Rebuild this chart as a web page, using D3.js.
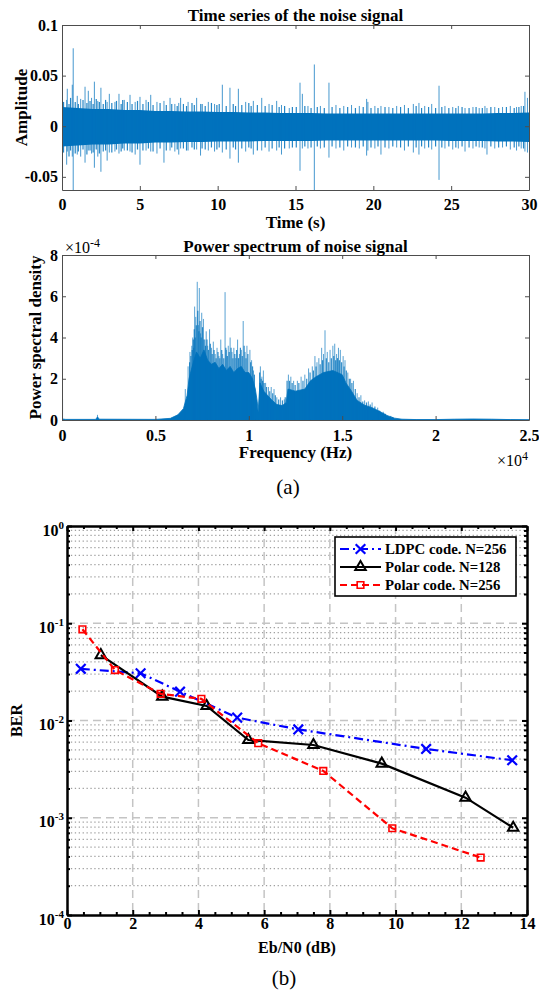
<!DOCTYPE html>
<html><head><meta charset="utf-8">
<script src="https://cdn.jsdelivr.net/npm/d3@7"></script>
<style>body{margin:0;background:#fff}svg{display:block}</style>
</head><body>
<svg id="c" width="539" height="993"></svg>
<script>
// ---------------- DATA ----------------
// (a-1) time series: dense core envelope (per second), spikes and fringe lines [t, high, low]
const tsEnvT  = [0,1,2,3,4,5,6,7,8,9,10,11,12,13,14,15,16,17,18,19,20,21,22,23,24,25,26,27,28,29,30];
const tsEnvUp = [0.019,0.018,0.017,0.017,0.016,0.016,0.015,0.015,0.0145,0.0145,0.014,0.014,0.0135,0.0135,0.013,0.013,0.013,0.0125,0.0125,0.0125,0.0125,0.0125,0.0125,0.0125,0.0125,0.0125,0.0125,0.0125,0.013,0.013,0.0135];
const tsEnvLo = [-0.020,-0.019,-0.018,-0.018,-0.017,-0.017,-0.016,-0.016,-0.0155,-0.0155,-0.015,-0.015,-0.015,-0.0145,-0.0145,-0.0145,-0.0145,-0.014,-0.014,-0.014,-0.014,-0.014,-0.014,-0.014,-0.014,-0.0145,-0.0145,-0.0145,-0.015,-0.015,-0.0155];
const tsSpikes = [
 [0.30,0.026,-0.038],[0.34,0.037,-0.025],[0.66,0.041,-0.030],[0.72,0.077,-0.065],[0.98,0.030,-0.028],
 [1.20,0.027,-0.030],[1.48,0.039,-0.036],[1.69,0.035,-0.024],[1.90,0.028,-0.027],[2.08,0.044,-0.041],
 [2.30,0.025,-0.030],[2.50,0.038,-0.045],[2.90,0.024,-0.034],[3.04,0.032,-0.026],[3.40,0.024,-0.025],
 [3.66,0.032,-0.027],[4.00,0.026,-0.024],[4.37,0.031,-0.025],[4.70,0.024,-0.028],[5.01,0.029,-0.038],
 [5.40,0.026,-0.024],[5.70,0.031,-0.025],[6.10,0.024,-0.027],[6.55,0.025,-0.036],[6.94,0.028,-0.024],
 [7.25,0.022,-0.025],[7.50,0.023,-0.028],[7.62,0.028,-0.022],[8.10,0.024,-0.024],[8.65,0.028,-0.023],
 [8.90,0.022,-0.029],[9.40,0.024,-0.024],[9.80,0.022,-0.025],[10.30,0.041,-0.026],[10.79,0.038,-0.032],
 [11.33,0.037,-0.036],[11.80,0.024,-0.025],[12.29,0.025,-0.028],[12.83,0.028,-0.024],[13.30,0.022,-0.025],
 [13.79,0.025,-0.024],[14.10,0.021,-0.028],[14.60,0.018,-0.022],[15.29,0.043,-0.044],[15.44,0.032,-0.022],
 [15.80,0.020,-0.022],[16.21,0.061,-0.065],[16.60,0.020,-0.022],[17.15,0.043,-0.031],[17.60,0.021,-0.022],
 [18.10,0.020,-0.024],[18.60,0.021,-0.021],[19.10,0.020,-0.022],[19.57,0.027,-0.029],[19.65,0.024,-0.024],
 [20.10,0.020,-0.022],[20.49,0.020,-0.028],[21.00,0.019,-0.022],[21.50,0.020,-0.021],[22.00,0.021,-0.024],
 [22.57,0.022,-0.026],[22.93,0.023,-0.028],[23.30,0.020,-0.022],[23.75,0.022,-0.023],[24.22,0.040,-0.053],
 [24.60,0.020,-0.022],[25.10,0.019,-0.023],[25.46,0.020,-0.022],[25.89,0.018,-0.025],[26.40,0.019,-0.022],
 [26.80,0.018,-0.021],[27.17,0.020,-0.022],[27.30,0.018,-0.028],[27.80,0.019,-0.022],[28.30,0.019,-0.021],
 [28.80,0.020,-0.023],[29.20,0.019,-0.024],[29.50,0.020,-0.022],[29.74,0.034,-0.025],[29.90,0.028,-0.026]
];
const tsFringe = [
 [0.10,0.024,-0.026],[0.45,0.022,-0.030],[0.55,0.028,-0.024],[0.85,0.024,-0.027],[1.05,0.022,-0.025],
 [1.35,0.026,-0.023],[1.60,0.023,-0.028],[1.80,0.025,-0.024],[2.00,0.022,-0.026],[2.20,0.027,-0.023],
 [2.40,0.024,-0.027],[2.65,0.022,-0.025],[2.80,0.026,-0.024],[3.20,0.023,-0.026],[3.50,0.025,-0.023],
 [3.80,0.022,-0.025],[3.90,0.026,-0.022],[4.20,0.024,-0.024],[4.50,0.022,-0.026],[4.85,0.025,-0.023],
 [5.20,0.022,-0.024],[5.55,0.024,-0.022],[5.85,0.021,-0.025],[6.30,0.023,-0.022],[6.70,0.021,-0.024],
 [7.05,0.022,-0.021],[7.40,0.020,-0.023],[7.80,0.022,-0.022],[8.00,0.020,-0.024],[8.35,0.023,-0.021],
 [8.50,0.021,-0.023],[9.00,0.022,-0.022],[9.20,0.020,-0.023],[9.60,0.023,-0.021],[9.95,0.021,-0.023],
 [10.10,0.022,-0.021],[10.55,0.020,-0.023],[11.00,0.022,-0.021],[11.15,0.020,-0.023],[11.55,0.021,-0.022],
 [12.00,0.023,-0.021],[12.15,0.020,-0.022],[12.55,0.021,-0.024],[13.05,0.020,-0.021],[13.50,0.021,-0.022],
 [13.95,0.019,-0.021],[14.30,0.020,-0.022],[14.80,0.019,-0.021],[15.05,0.019,-0.021],[15.60,0.020,-0.020],
 [16.00,0.018,-0.021],[16.40,0.019,-0.020],[16.85,0.018,-0.021],[17.35,0.019,-0.020],[17.85,0.018,-0.021],
 [18.35,0.019,-0.020],[18.85,0.018,-0.021],[19.35,0.019,-0.020],[19.85,0.018,-0.021],[20.30,0.018,-0.020],
 [20.75,0.019,-0.021],[21.25,0.018,-0.020],[21.75,0.019,-0.021],[22.25,0.018,-0.020],[22.75,0.020,-0.021],
 [23.10,0.018,-0.020],[23.55,0.019,-0.021],[24.00,0.018,-0.020],[24.40,0.019,-0.021],[24.85,0.018,-0.020],
 [25.30,0.018,-0.021],[25.70,0.019,-0.020],[26.15,0.018,-0.021],[26.60,0.019,-0.020],[27.00,0.018,-0.021],
 [27.55,0.019,-0.020],[28.05,0.018,-0.021],[28.55,0.019,-0.020],[29.05,0.018,-0.021],[29.35,0.019,-0.020],
 [29.65,0.020,-0.022]
];
const tsXTicks = [0,5,10,15,20,25,30];
const tsXTickLabels = ['0','5','10','15','20','25','30'];
const tsYTicks = [-0.05,0,0.05,0.1];
const tsYTickLabels = ['-0.05','0','0.05','0.1'];

// (a-2) power spectrum (frequency in 1e4 Hz, PSD in 1e-4)
const psdF = [0,0.02,0.18,0.19,0.20,0.50,0.58,0.62,0.65,0.67,0.68,0.70,0.72,0.74,0.76,0.78,0.80,0.82,0.84,0.86,0.88,0.90,0.92,0.94,0.96,0.98,1.00,1.02,1.035,1.045,1.05,1.06,1.08,1.10,1.12,1.15,1.18,1.20,1.21,1.25,1.30,1.33,1.36,1.40,1.45,1.50,1.52,1.55,1.58,1.62,1.66,1.70,1.74,1.78,1.82,1.90,2.00,2.10,2.20,2.30,2.40,2.50];
const psdV = [0.05,0.03,0.03,0.15,0.04,0.03,0.08,0.25,0.55,1.2,2.0,2.7,3.3,3.0,3.4,2.9,2.7,2.8,2.5,2.7,2.4,2.6,2.3,2.5,2.6,2.3,2.3,2.0,1.5,0.9,0.4,1.8,1.4,1.2,1.0,0.75,0.7,0.85,1.5,1.4,1.5,1.9,2.1,2.3,2.4,2.2,1.8,1.4,0.95,0.72,0.6,0.42,0.22,0.09,0.04,0.02,0.02,0.04,0.05,0.04,0.02,0.01];
const psdSpikeF = [0.000,0.003,0.19,0.66,0.675,0.685,0.695,0.700,0.705,0.710,0.716,0.724,0.730,0.735,0.742,0.748,0.757,0.765,0.772,0.780,0.790,0.800,0.810,0.820,0.830,0.840,0.850,0.860,0.873,0.880,0.890,0.900,0.910,0.920,0.930,0.940,0.950,0.960,0.970,0.980,0.990,1.006,1.015,1.025,1.062,1.070,1.078,1.090,1.105,1.120,1.135,1.150,1.170,1.190,1.212,1.225,1.240,1.260,1.280,1.300,1.320,1.340,1.354,1.365,1.375,1.390,1.400,1.408,1.420,1.435,1.450,1.460,1.470,1.480,1.490,1.505,1.515,1.530,1.545,1.560,1.580,1.600,1.620,1.640,1.660,1.690,1.720,1.760];
const psdSpikeV = [3.2,1.0,0.25,1.5,2.6,3.3,3.6,4.0,3.5,5.5,5.0,6.7,4.6,6.4,4.2,5.2,4.9,3.9,4.3,3.6,4.4,3.5,3.8,3.2,3.5,3.1,3.9,3.2,6.2,3.4,3.6,4.0,3.3,3.5,3.0,3.9,3.2,3.4,4.8,3.3,3.6,3.4,2.9,2.4,2.6,2.1,2.4,1.8,1.6,1.6,1.5,1.1,1.1,1.0,2.2,2.1,1.9,1.9,2.1,2.2,2.5,2.6,3.1,2.8,3.0,3.5,3.2,4.35,3.3,3.4,3.6,3.7,3.2,3.5,3.4,3.1,2.9,2.3,2.0,1.9,1.3,1.2,0.95,0.9,0.85,0.6,0.4,0.2];
const psdFringeF = [0.683,0.690,0.697,0.703,0.708,0.713,0.719,0.727,0.733,0.739,0.745,0.752,0.760,0.768,0.776,0.784,0.794,0.804,0.814,0.825,0.835,0.845,0.855,0.866,0.877,0.885,0.895,0.905,0.915,0.925,0.935,0.945,0.955,0.965,0.975,0.985,0.995,1.010,1.020,1.030,1.058,1.066,1.074,1.082,1.095,1.112,1.128,1.142,1.160,1.180,1.195,1.205,1.218,1.232,1.248,1.268,1.290,1.310,1.328,1.346,1.360,1.382,1.395,1.415,1.428,1.442,1.455,1.465,1.475,1.485,1.497,1.510,1.522,1.538,1.552,1.570,1.590,1.610,1.630,1.650,1.675,1.700,1.730,1.770];
const psdFringeV = [2.8,3.1,3.4,3.9,4.4,4.0,4.6,5.3,4.3,4.8,4.0,4.5,3.9,3.6,3.9,3.4,3.7,3.2,3.4,3.0,3.3,3.0,3.4,3.0,3.5,3.1,3.3,3.5,3.0,3.2,3.4,3.0,3.5,3.1,3.6,3.0,3.2,2.8,2.6,2.2,2.3,2.0,1.9,1.8,1.6,1.4,1.3,1.2,1.0,0.95,1.1,1.9,1.9,1.8,1.7,1.8,1.9,2.0,2.3,2.4,2.6,2.7,2.9,3.0,2.8,3.0,3.1,2.9,3.0,2.9,2.8,2.6,2.4,2.0,1.8,1.5,1.1,0.9,0.85,0.75,0.65,0.45,0.3,0.15];
const psdXTicks = [0,0.5,1,1.5,2,2.5];
const psdXTickLabels = ['0','0.5','1','1.5','2','2.5'];
const psdYTicks = [0,2,4,6,8];
const psdYTickLabels = ['0','2','4','6','8'];

// (b) BER curves
const seriesNames = ['LDPC code. N=256','Polar code. N=128','Polar code. N=256'];
const ldpcX = [0.42,2.24,3.44,5.18,7.04,10.93,13.55];
const ldpcY = [0.034,0.0306,0.0198,0.0107,0.0081,0.0051,0.0039];
const polar128X = [1.03,2.9,4.25,5.52,7.5,9.58,12.13,13.58];
const polar128Y = [0.047,0.0176,0.0141,0.0063,0.0056,0.0036,0.00161,0.00079];
const polar256X = [0.47,1.46,2.85,4.09,5.82,7.8,9.9,12.59];
const polar256Y = [0.0867,0.033,0.0188,0.0167,0.00585,0.00303,0.00078,0.00039];
const berXTicks = [0,2,4,6,8,10,12,14];
const berYTicks = [1e-4,1e-3,1e-2,1e-1,1];
const berYExp = ['-4','-3','-2','-1','0'];

// ---------------- DRAWING ----------------
const FONT = '"Liberation Serif","Times New Roman",Times,serif';
const BLUE = '#0072BD';
const svg = d3.select('#c');
const defs = svg.append('defs');

function styleAxis(g, color, width, fs) {
  g.select('.domain').attr('stroke', color).attr('stroke-width', width);
  g.selectAll('.tick line').attr('stroke', color).attr('stroke-width', width);
  g.selectAll('text').attr('font-family', FONT).attr('font-weight', 'bold')
    .attr('font-size', fs || 16).attr('fill', '#000');
}
function txt(x, y, s, o) {
  o = o || {};
  const t = svg.append('text').attr('x', x).attr('y', y).text(s)
    .attr('font-family', FONT).attr('font-size', o.size || 17)
    .attr('font-weight', o.weight || 'bold').attr('text-anchor', o.anchor || 'middle')
    .attr('fill', '#000');
  if (o.rotate) t.attr('transform', `rotate(-90,${x},${y})`);
  return t;
}
function clip(id, b) {
  defs.append('clipPath').attr('id', id).append('rect')
    .attr('x', b.l).attr('y', b.t).attr('width', b.r - b.l).attr('height', b.b - b.t);
}
function frame(b, x, y, xt, xl, yt, yl, pad) {
  const col = '#4d4d4d', w = 1, ts = 4;
  const gb = svg.append('g').attr('transform', `translate(0,${b.b})`)
    .call(d3.axisBottom(x).tickValues(xt).tickFormat((d, i) => xl[i]).tickSize(-ts).tickSizeOuter(0).tickPadding(pad));
  styleAxis(gb, col, w);
  const gt = svg.append('g').attr('transform', `translate(0,${b.t})`)
    .call(d3.axisTop(x).tickValues(xt).tickFormat('').tickSize(-ts).tickSizeOuter(0));
  styleAxis(gt, col, w);
  const gl = svg.append('g').attr('transform', `translate(${b.l},0)`)
    .call(d3.axisLeft(y).tickValues(yt).tickFormat((d, i) => yl[i]).tickSize(-ts).tickSizeOuter(0).tickPadding(4));
  styleAxis(gl, col, w);
  const gr = svg.append('g').attr('transform', `translate(${b.r},0)`)
    .call(d3.axisRight(y).tickValues(yt).tickFormat('').tickSize(-ts).tickSizeOuter(0));
  styleAxis(gr, col, w);
}

// ---- Panel (a) top: time series ----
const p1 = {l: 62, r: 529, t: 25, b: 190};
const x1 = d3.scaleLinear().domain([0, 30]).range([p1.l, p1.r]);
const y1 = d3.scaleLinear().domain([-0.063, 0.1]).range([p1.b, p1.t]);
clip('c1', p1);
const g1 = svg.append('g').attr('clip-path', 'url(#c1)');
g1.append('path').datum(tsEnvT.map((t, i) => [t, tsEnvUp[i], tsEnvLo[i]]))
  .attr('fill', BLUE)
  .attr('d', d3.area().x(d => x1(d[0])).y0(d => y1(d[2])).y1(d => y1(d[1])));
g1.selectAll('line.fr').data(tsFringe).join('line').attr('class', 'fr')
  .attr('x1', d => x1(d[0])).attr('x2', d => x1(d[0]))
  .attr('y1', d => y1(d[2])).attr('y2', d => y1(d[1]))
  .attr('stroke', BLUE).attr('stroke-width', 1.2).attr('opacity', 0.85);
g1.selectAll('line.sp').data(tsSpikes).join('line').attr('class', 'sp')
  .attr('x1', d => x1(d[0])).attr('x2', d => x1(d[0]))
  .attr('y1', d => y1(d[2])).attr('y2', d => y1(d[1]))
  .attr('stroke', BLUE).attr('stroke-width', 1).attr('opacity', 0.72);
frame(p1, x1, y1, tsXTicks, tsXTickLabels, tsYTicks, tsYTickLabels, 9);
txt(295.5, 21, 'Time series of the noise signal');
txt(295.5, 228, 'Time (s)');
txt(27, 107.5, 'Amplitude', {rotate: true});

// ---- Panel (a) bottom: power spectrum ----
const p2 = {l: 62, r: 529, t: 255, b: 420};
const x2 = d3.scaleLinear().domain([0, 2.5]).range([p2.l, p2.r]);
const y2 = d3.scaleLinear().domain([0, 8]).range([p2.b, p2.t]);
clip('c2', p2);
const g2 = svg.append('g').attr('clip-path', 'url(#c2)');
g2.append('path').datum(psdF.map((f, i) => [f, psdV[i]]))
  .attr('fill', BLUE).attr('stroke', BLUE).attr('stroke-width', 0.8)
  .attr('d', d3.area().x(d => x2(d[0])).y0(y2(0)).y1(d => y2(d[1])));
g2.selectAll('line.pf').data(psdFringeF.map((f, i) => [f, psdFringeV[i]])).join('line').attr('class', 'pf')
  .attr('x1', d => x2(d[0])).attr('x2', d => x2(d[0]))
  .attr('y1', y2(0)).attr('y2', d => y2(d[1]))
  .attr('stroke', BLUE).attr('stroke-width', 1.2).attr('opacity', 0.8);
g2.selectAll('line.ps').data(psdSpikeF.map((f, i) => [f, psdSpikeV[i]])).join('line').attr('class', 'ps')
  .attr('x1', d => x2(d[0])).attr('x2', d => x2(d[0]))
  .attr('y1', y2(0)).attr('y2', d => y2(d[1]))
  .attr('stroke', BLUE).attr('stroke-width', 1).attr('opacity', 0.65);
frame(p2, x2, y2, psdXTicks, psdXTickLabels, psdYTicks, psdYTickLabels, 10);
txt(295.5, 252, 'Power spectrum of noise signal');
txt(295.5, 458, 'Frequency (Hz)');
txt(41, 337.5, 'Power spectral density', {rotate: true});
const e1 = txt(65, 253, '', {anchor: 'start', weight: 'normal', size: 16});
e1.append('tspan').text('\u00d710');
e1.append('tspan').attr('dy', -6).attr('font-size', 12).text('-4');
const e2 = txt(497, 466, '', {anchor: 'start', weight: 'normal', size: 16});
e2.append('tspan').text('\u00d710');
e2.append('tspan').attr('dy', -6).attr('font-size', 12).text('4');
txt(288, 494, '(a)', {weight: 'normal', size: 21});

// ---- Panel (b): BER ----
const p3 = {l: 67, r: 527, t: 526, b: 915};
const x3 = d3.scaleLinear().domain([0, 14]).range([p3.l, p3.r]);
const y3 = d3.scaleLog().domain([1e-4, 1]).range([p3.b, p3.t]);
const minorY = y3.ticks().filter(v => !berYTicks.some(d => Math.abs(Math.log10(v) - Math.log10(d)) < 1e-6));
const minorX = x3.ticks(28).filter(v => v % 2 !== 0);
// grid
const gg = svg.append('g');
gg.selectAll('line.my').data(minorY).join('line').attr('class', 'my')
  .attr('x1', p3.l).attr('x2', p3.r).attr('y1', d => y3(d)).attr('y2', d => y3(d))
  .attr('stroke', '#a0a0a0').attr('stroke-width', 1.2).attr('stroke-dasharray', '1.3,2.6');
gg.selectAll('line.Mx').data(berXTicks.slice(1, -1)).join('line').attr('class', 'Mx')
  .attr('x1', d => x3(d)).attr('x2', d => x3(d)).attr('y1', p3.t).attr('y2', p3.b)
  .attr('stroke', '#c4c4c4').attr('stroke-width', 1.5).attr('stroke-dasharray', '8,5');
gg.selectAll('line.My').data(berYTicks.slice(1, -1)).join('line').attr('class', 'My')
  .attr('x1', p3.l).attr('x2', p3.r).attr('y1', d => y3(d)).attr('y2', d => y3(d))
  .attr('stroke', '#c4c4c4').attr('stroke-width', 1.5).attr('stroke-dasharray', '8,5');

const series = [
  {name: seriesNames[0], xs: ldpcX, ys: ldpcY, color: '#0000ff', dash: '9,4,2,4', marker: 'x'},
  {name: seriesNames[1], xs: polar128X, ys: polar128Y, color: '#000000', dash: null, marker: 'tri'},
  {name: seriesNames[2], xs: polar256X, ys: polar256Y, color: '#ff0000', dash: '7,4', marker: 'sq'}
];
function drawMarker(g, type, color) {
  if (type === 'x') {
    g.append('path').attr('d', 'M-4.8,-4.8L4.8,4.8M-4.8,4.8L4.8,-4.8')
      .attr('stroke', color).attr('stroke-width', 2.2).attr('fill', 'none');
  } else if (type === 'tri') {
    g.append('path').attr('d', d3.symbol(d3.symbolTriangle, 48)())
      .attr('stroke', color).attr('stroke-width', 2).attr('fill', 'none');
  } else {
    g.append('path').attr('d', d3.symbol(d3.symbolSquare, 44)())
      .attr('stroke', color).attr('stroke-width', 1.6).attr('fill', 'none');
  }
}
const line = d3.line().x(d => x3(d[0])).y(d => y3(d[1]));
series.forEach(s => {
  const pts = s.xs.map((x, i) => [x, s.ys[i]]);
  svg.append('path').datum(pts).attr('d', line).attr('fill', 'none')
    .attr('stroke', s.color).attr('stroke-width', 2.2)
    .attr('stroke-dasharray', s.dash);
  pts.forEach(p => {
    const g = svg.append('g').attr('transform', `translate(${x3(p[0])},${y3(p[1])})`);
    drawMarker(g, s.marker, s.color);
  });
});

// axes
const bc = '#000', bw = 2;
const ab = svg.append('g').attr('transform', `translate(0,${p3.b})`)
  .call(d3.axisBottom(x3).tickValues(berXTicks).tickFormat(d3.format('d')).tickSize(-5).tickSizeOuter(0).tickPadding(3));
styleAxis(ab, bc, bw);
const abm = svg.append('g').attr('transform', `translate(0,${p3.b})`)
  .call(d3.axisBottom(x3).tickValues(minorX).tickFormat('').tickSize(-3).tickSizeOuter(0));
styleAxis(abm, bc, bw);
const at = svg.append('g').attr('transform', `translate(0,${p3.t})`)
  .call(d3.axisTop(x3).tickValues(berXTicks).tickFormat('').tickSize(-5).tickSizeOuter(0));
styleAxis(at, bc, bw);
const atm = svg.append('g').attr('transform', `translate(0,${p3.t})`)
  .call(d3.axisTop(x3).tickValues(minorX).tickFormat('').tickSize(-3).tickSizeOuter(0));
styleAxis(atm, bc, bw);
const al = svg.append('g').attr('transform', `translate(${p3.l},0)`)
  .call(d3.axisLeft(y3).tickValues(berYTicks).tickFormat('').tickSize(-5).tickSizeOuter(0));
styleAxis(al, bc, bw);
al.selectAll('.tick').append('text')
  .attr('x', -3).attr('y', 9).attr('text-anchor', 'end')
  .attr('font-family', FONT).attr('font-weight', 'bold').attr('font-size', 16).attr('fill', '#000')
  .each(function(d, i) {
    const t = d3.select(this);
    t.append('tspan').text('10');
    t.append('tspan').attr('dy', -7).attr('font-size', 11).text(berYExp[i]);
  });
const alm = svg.append('g').attr('transform', `translate(${p3.l},0)`)
  .call(d3.axisLeft(y3).tickValues(minorY).tickFormat('').tickSize(-3).tickSizeOuter(0));
styleAxis(alm, bc, bw);
const ar = svg.append('g').attr('transform', `translate(${p3.r},0)`)
  .call(d3.axisRight(y3).tickValues(berYTicks).tickFormat('').tickSize(-5).tickSizeOuter(0));
styleAxis(ar, bc, bw);
const arm = svg.append('g').attr('transform', `translate(${p3.r},0)`)
  .call(d3.axisRight(y3).tickValues(minorY).tickFormat('').tickSize(-3).tickSizeOuter(0));
styleAxis(arm, bc, bw);

// legend
const lg = svg.append('g');
lg.append('rect').attr('x', 335).attr('y', 537).attr('width', 181).attr('height', 59)
  .attr('fill', '#fff').attr('stroke', '#000').attr('stroke-width', 1.6);
series.forEach((s, i) => {
  const yy = 549 + i * 18;
  lg.append('line').attr('x1', 340).attr('x2', 381).attr('y1', yy).attr('y2', yy)
    .attr('stroke', s.color).attr('stroke-width', 2.2).attr('stroke-dasharray', s.dash);
  drawMarker(lg.append('g').attr('transform', `translate(360.5,${yy})`), s.marker, s.color);
  lg.append('text').attr('x', 385).attr('y', yy + 5).text(s.name)
    .attr('font-family', FONT).attr('font-weight', 'bold').attr('font-size', 14.8).attr('fill', '#000');
});

txt(297, 953, 'Eb/N0 (dB)', {size: 16});
txt(22, 720.5, 'BER', {rotate: true, size: 16});
txt(284, 985, '(b)', {weight: 'normal', size: 21});
</script>
</body></html>
